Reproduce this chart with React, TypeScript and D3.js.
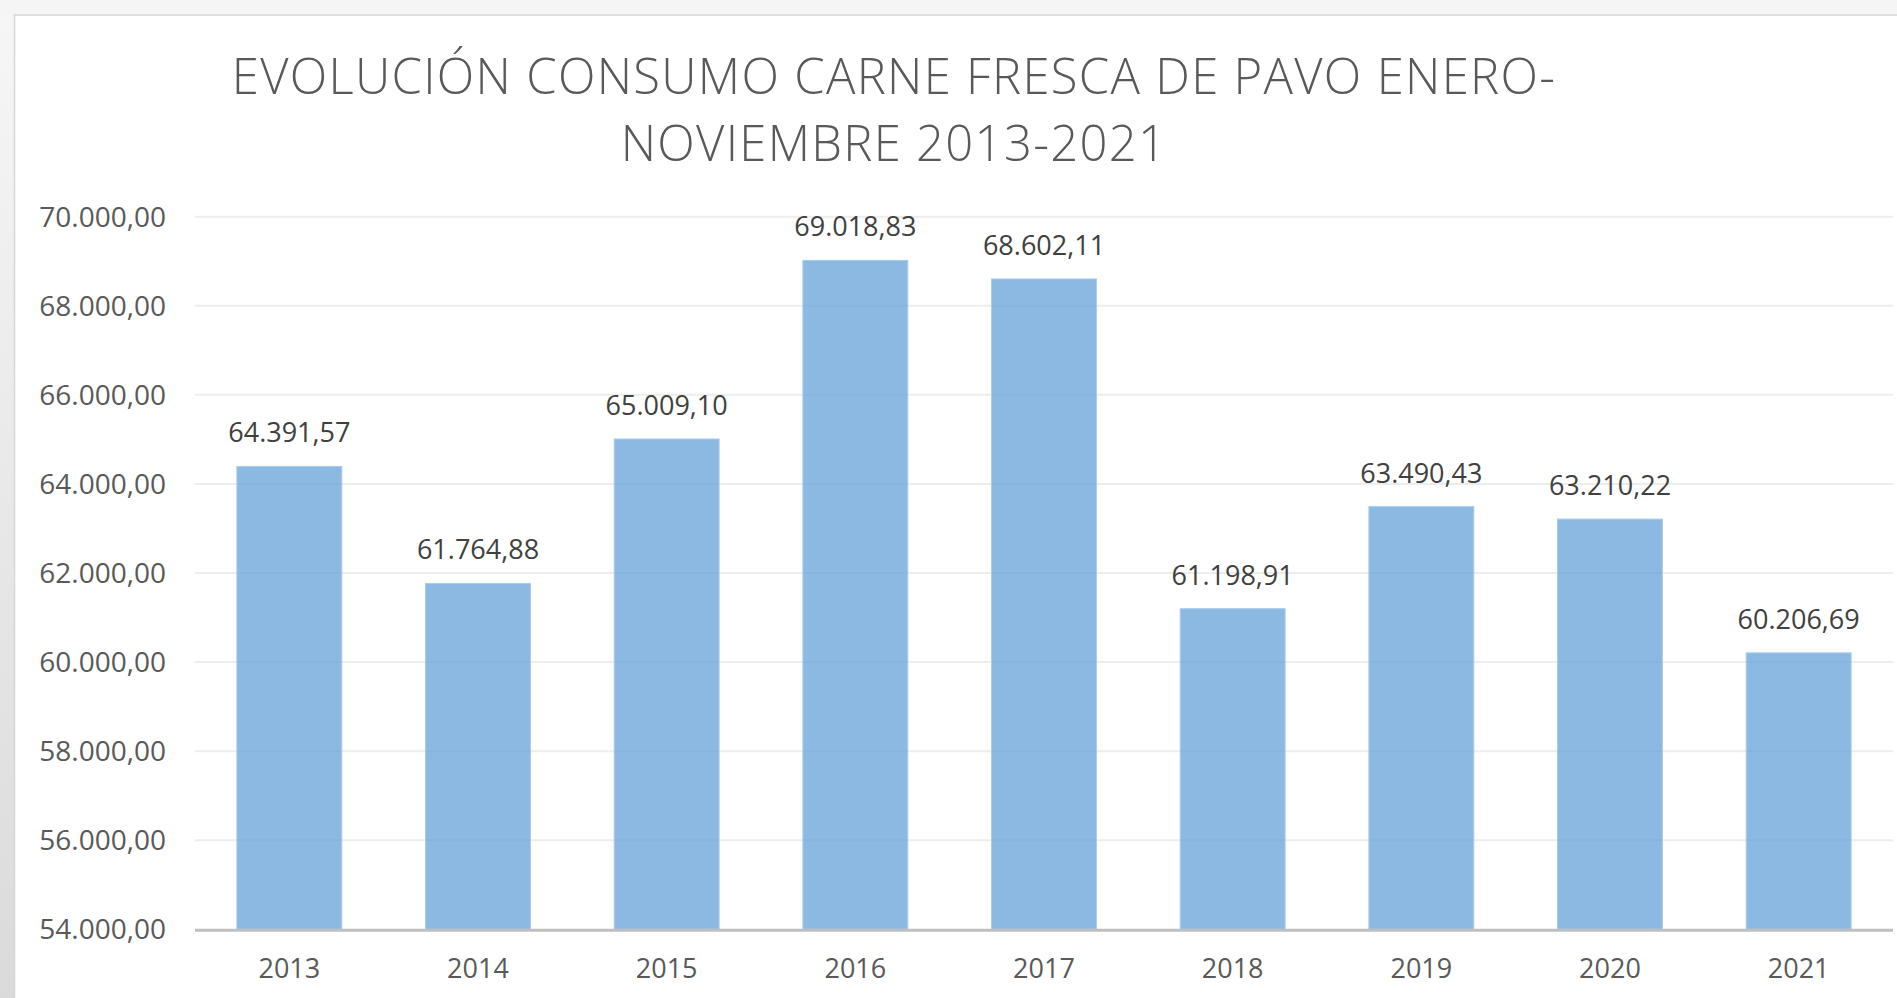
import { useEffect, useRef } from "react";
import * as d3 from "d3";

const years = ["2013", "2014", "2015", "2016", "2017", "2018", "2019", "2020", "2021"];
const consumo = [64391.57, 61764.88, 65009.1, 69018.83, 68602.11, 61198.91, 63490.43, 63210.22, 60206.69];
const yTicks = [54000, 56000, 58000, 60000, 62000, 64000, 66000, 68000, 70000];
const titleLines = ["EVOLUCIÓN CONSUMO CARNE FRESCA DE PAVO ENERO-", "NOVIEMBRE 2013-2021"];

const W = 1897;
const H = 998;
const FONT = "'Open Sans', 'Noto Sans', sans-serif";

const fmt = (v: number) =>
  v.toLocaleString("de-DE", { minimumFractionDigits: 2, maximumFractionDigits: 2 });

const App = () => {
  const ref = useRef<SVGSVGElement | null>(null);

  useEffect(() => {
    const svg = d3.select(ref.current);
    svg.selectAll("*").remove();

    const margin = { top: 216.7, right: 4, bottom: 68.7, left: 195 };

    const defs = svg.append("defs");
    const grad = defs
      .append("linearGradient")
      .attr("id", "side")
      .attr("x1", 0)
      .attr("y1", 0)
      .attr("x2", 0)
      .attr("y2", 1);
    grad.append("stop").attr("offset", "0%").attr("stop-color", "#f6f6f6");
    grad.append("stop").attr("offset", "100%").attr("stop-color", "#dadada");

    // page background + chart frame
    svg.append("rect").attr("width", W).attr("height", H).attr("fill", "#f5f5f5");
    svg.append("rect").attr("x", 0).attr("y", 15).attr("width", 15).attr("height", H).attr("fill", "url(#side)");
    svg
      .append("rect")
      .attr("x", 14.5)
      .attr("y", 15)
      .attr("width", W)
      .attr("height", H)
      .attr("fill", "#ffffff")
      .attr("stroke", "#d6d6d6")
      .attr("stroke-width", 1.5);

    const x = d3
      .scaleBand()
      .domain(years)
      .range([margin.left, W - margin.right])
      .paddingInner(0.444)
      .paddingOuter(0.222);

    const y = d3
      .scaleLinear()
      .domain([54000, 70000])
      .range([H - margin.bottom, margin.top]);

    // gridlines
    svg
      .append("g")
      .selectAll("line")
      .data(yTicks.slice(1))
      .join("line")
      .attr("x1", margin.left)
      .attr("x2", W - margin.right)
      .attr("y1", (d) => y(d))
      .attr("y2", (d) => y(d))
      .attr("stroke", "#ededed")
      .attr("stroke-width", 2);

    // y labels
    svg
      .append("g")
      .selectAll("text")
      .data(yTicks)
      .join("text")
      .attr("x", 166)
      .attr("y", (d) => y(d) + 10)
      .attr("text-anchor", "end")
      .attr("font-family", FONT)
      .attr("font-size", 28)
      .attr("fill", "#595959")
      .text((d) => fmt(d));

    // bars
    svg
      .append("g")
      .selectAll("rect")
      .data(consumo)
      .join("rect")
      .attr("x", (_, i) => x(years[i])!)
      .attr("y", (d) => y(d))
      .attr("width", x.bandwidth())
      .attr("height", (d) => y(54000) - y(d))
      .attr("fill", "#5b9bd5")
      .attr("fill-opacity", 0.7)
      .attr("stroke", "#a9cbec")
      .attr("stroke-width", 1);

    // value labels
    svg
      .append("g")
      .selectAll("text")
      .data(consumo)
      .join("text")
      .attr("x", (_, i) => x(years[i])! + x.bandwidth() / 2)
      .attr("y", (d) => y(d) - 24)
      .attr("text-anchor", "middle")
      .attr("font-family", FONT)
      .attr("font-size", 27)
      .attr("fill", "#404040")
      .text((d) => fmt(d));

    // x axis line
    svg
      .append("line")
      .attr("x1", margin.left)
      .attr("x2", W - margin.right)
      .attr("y1", y(54000) + 1)
      .attr("y2", y(54000) + 1)
      .attr("stroke", "#bfbfbf")
      .attr("stroke-width", 3);

    // x labels
    svg
      .append("g")
      .selectAll("text")
      .data(years)
      .join("text")
      .attr("x", (d) => x(d)! + x.bandwidth() / 2)
      .attr("y", 978)
      .attr("text-anchor", "middle")
      .attr("font-family", FONT)
      .attr("font-size", 27)
      .attr("fill", "#595959")
      .text((d) => d);

    // title
    svg
      .append("g")
      .selectAll("text")
      .data(titleLines)
      .join("text")
      .attr("x", 894)
      .attr("y", (_, i) => 94 + i * 67)
      .attr("text-anchor", "middle")
      .attr("font-family", FONT)
      .attr("font-weight", 300)
      .attr("font-size", 49)
      .attr("letter-spacing", 1.3)
      .attr("fill", "#595959")
      .text((d) => d);
  }, []);

  return (
    <svg
      ref={ref}
      width={W}
      height={H}
      style={{ position: "absolute", left: 0, top: 0, display: "block" }}
    />
  );
};

export default App;
